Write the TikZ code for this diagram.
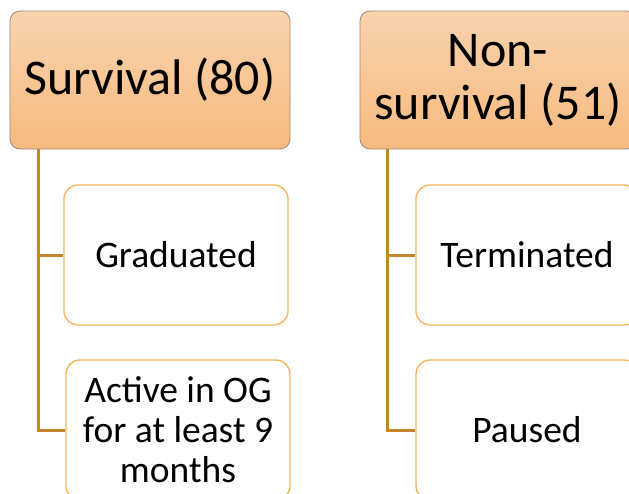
\documentclass[tikz,border=0pt]{standalone}
\usepackage{fontspec}
\setmainfont{Carlito}
\definecolor{headtop}{HTML}{F9D3AE}
\definecolor{headbot}{HTML}{F6BA7E}
\definecolor{headline}{HTML}{9C8878}
\definecolor{childline}{HTML}{F5B65E}
\definecolor{conn}{HTML}{C4852C}
\tikzset{
  headbox/.style={draw=headline, line width=0.8pt, rounded corners=10pt,
    top color=headtop, bottom color=headbot, minimum height=138pt,
    align=center, font=\fontsize{50}{53}\selectfont, inner sep=0pt},
  childbox/.style={draw=childline, line width=1.4pt, rounded corners=14pt,
    fill=white, minimum width=224pt, minimum height=140pt,
    align=center, font=\fontsize{37.5}{40}\selectfont, inner sep=0pt},
  connline/.style={draw=conn, line width=3pt}
}
\begin{document}
\begin{tikzpicture}[x=1pt,y=1pt]
\useasboundingbox (0,-493) rectangle (629,0);
\clip (0,-493) rectangle (629,0);
\node[headbox, minimum width=280pt] (lh) at (150,-80) {Survival (80)};
\node[headbox, minimum width=276pt] (rh) at (498,-80) {Non-\\survival (51)};
\node[childbox] (l1) at (176,-255) {Graduated};
\node[childbox] (l2) at (178,-430) {Active in OG\\for at least 9\\months};
\node[childbox, minimum width=222pt] (r1) at (527,-255) {Terminated};
\node[childbox, minimum width=222pt] (r2) at (527,-430) {Paused};
\draw[connline] ([xshift=29pt]lh.south west) |- (l1.west);
\draw[connline] ([xshift=29pt]lh.south west) |- (l2.west);
\draw[connline] ([xshift=28pt]rh.south west) |- (r1.west);
\draw[connline] ([xshift=28pt]rh.south west) |- (r2.west);
\end{tikzpicture}
\end{document}
